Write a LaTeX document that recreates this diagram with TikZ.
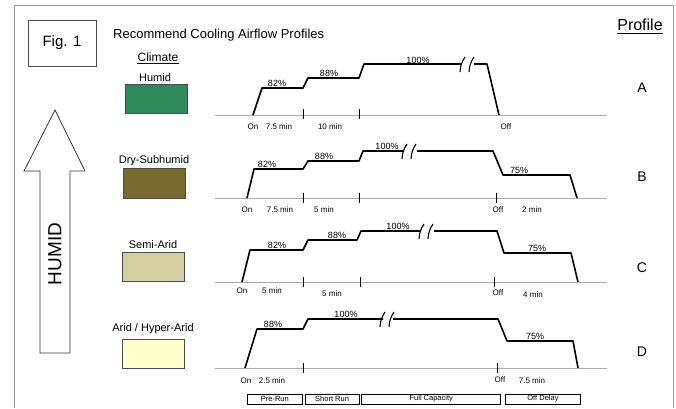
\documentclass[tikz,border=0pt]{standalone}
\usepackage{fontspec}
\setmainfont{Liberation Sans}
\usetikzlibrary{positioning}

\definecolor{humidgreen}{RGB}{46,138,90}
\definecolor{drysub}{RGB}{120,106,46}
\definecolor{semiarid}{RGB}{214,207,160}
\definecolor{arid}{RGB}{255,255,204}
\definecolor{framegray}{RGB}{150,150,150}

\tikzset{
  prof/.style={line width=1.6pt, line join=round},
  axisln/.style={draw=framegray!80, line width=0.8pt},
  tickln/.style={line width=0.7pt},
  brk/.style={line width=1.1pt},
  pct/.style={font=\fontsize{9}{10}\selectfont, anchor=base, inner sep=0pt},
  tlab/.style={font=\fontsize{8}{9}\selectfont, inner sep=0pt},
  clab/.style={font=\fontsize{11}{13}\selectfont, inner sep=0pt},
  cbox/.style={draw=black!70, line width=0.7pt},
  plab/.style={font=\fontsize{14}{16}\selectfont, inner sep=0pt},
  phase/.style={draw, line width=0.7pt, minimum height=10pt, inner sep=0pt, font=\fontsize{7.5}{8}\selectfont}
}

\begin{document}
\begin{tikzpicture}[x=1pt, y=-1pt]
\useasboundingbox (0,0) rectangle (676,408);
% frame
\draw[framegray, line width=1pt] (14,408) -- (14,5) -- (673,5) -- (673,408);
\node[draw=black!70, line width=0.7pt, minimum width=68pt, minimum height=46pt, font=\fontsize{15}{17}\selectfont] (fig) at (62,43) {Fig. 1};
\node[font=\fontsize{13}{15}\selectfont, anchor=west, inner sep=0pt] (title) at (113,35) {Recommend Cooling Airflow Profiles};
\node[font=\fontsize{12}{14}\selectfont, inner sep=0pt] (climate) at (158,57) {Climate};
\draw[line width=0.9pt] ([yshift=-2pt]climate.south west) -- ([yshift=-2pt]climate.south east);
\node[font=\fontsize{16}{18}\selectfont, inner sep=0pt] (profile) at (640,25) {Profile};
\draw[line width=0.9pt] ([yshift=-2pt]profile.south west) -- ([yshift=-2pt]profile.south east);

% humid arrow
\draw[line width=0.8pt, draw=black!80] (40,353) -- (40,171) -- (24,171) -- (55,110) -- (85,171) -- (70,171) -- (70,353) -- cycle;
\node[rotate=90, font=\fontsize{19}{21}\selectfont] (humid) at (55,254) {HUMID};

% climate boxes
\node[clab] (lbA) at (155,78) {Humid};
\draw[cbox, fill=humidgreen] (125,84) rectangle (187,113);
\node[clab] (lbB) at (154,161) {Dry-Subhumid};
\draw[cbox, fill=drysub] (123,168) rectangle (185,198);
\node[clab] (lbC) at (153,245) {Semi-Arid};
\draw[cbox, fill=semiarid] (122,252) rectangle (184,281);
\node[clab] (lbD) at (153,329) {Arid / Hyper-Arid};
\draw[cbox, fill=arid] (122,339) rectangle (184,368);

% axes
\foreach \yy in {115,198,282,368}
  \draw[axisln] (215,\yy) -- (607,\yy);

% Profile A
\draw[prof] (253,115) -- (262,88) -- (303,88) -- (308,78) -- (359,78) -- (364,64) -- (461,64);
\draw[prof] (474,64) -- (487,64) -- (499,115);
\draw[line width=2.6pt] (308,78) -- (359,78);
\draw[brk] (460,72) to[bend left=15] (465,57);
\draw[brk] (469,72) to[bend left=15] (474,57);
\foreach \xx in {303,359} \draw[tickln] (\xx,109) -- (\xx,119);
\node[pct] (pA1) at (277,86) {82\%};
\node[pct] (pA2) at (329,76) {88\%};
\node[pct] (pA3) at (418,63) {100\%};
\node[tlab] (onA) at (253,127) {On};
\node[tlab] (tA1) at (279,127) {7.5 min};
\node[tlab] (tA2) at (330,127) {10 min};
\node[tlab] (offA) at (506,127) {Off};
\node[plab] (prA) at (642,88) {A};

% Profile B
\draw[prof] (247,198) -- (254,169) -- (303,169) -- (308,161) -- (359,161) -- (363,151) -- (404,151);
\draw[prof] (417,151) -- (493,151) -- (503,175) -- (570,175) -- (577,198);
\draw[brk] (402,159) to[bend left=15] (407,144);
\draw[brk] (411,159) to[bend left=15] (416,144);
\foreach \xx in {303,359,496} \draw[tickln] (\xx,193) -- (\xx,203);
\node[pct] (pB1) at (267,167) {82\%};
\node[pct] (pB2) at (324,159) {88\%};
\node[pct] (pB3) at (387,149) {100\%};
\node[pct] (pB4) at (519,173) {75\%};
\node[tlab] (onB) at (247,210) {On};
\node[tlab] (tB1) at (280,210) {7.5 min};
\node[tlab] (tB2) at (324,210) {5 min};
\node[tlab] (offB) at (498,210) {Off};
\node[tlab] (tB3) at (532,210) {2 min};
\node[plab] (prB) at (642,177) {B};

% Profile C
\draw[prof] (242,282) -- (250,250) -- (303,250) -- (308,240) -- (357,240) -- (361,231) -- (421,231);
\draw[prof] (434,231) -- (497,231) -- (504,253) -- (571,253) -- (578,282);
\draw[line width=2.6pt] (308,240) -- (357,240);
\draw[brk] (419,239) to[bend left=15] (424,224);
\draw[brk] (428,239) to[bend left=15] (433,224);
\foreach \xx in {303,360,494} \draw[tickln] (\xx,277) -- (\xx,287);
\node[pct] (pC1) at (277,248) {82\%};
\node[pct] (pC2) at (337,238) {88\%};
\node[pct] (pC3) at (398,229) {100\%};
\node[pct] (pC4) at (537,251) {75\%};
\node[tlab] (onC) at (242,291) {On};
\node[tlab] (tC1) at (272,291) {5 min};
\node[tlab] (tC2) at (332,294) {5 min};
\node[tlab] (offC) at (498,293) {Off};
\node[tlab] (tC3) at (533,295) {4 min};
\node[plab] (prC) at (642,268) {C};

% Profile D
\draw[prof] (245,368) -- (257,329) -- (303,329) -- (308,319) -- (383,319);
\draw[prof] (393,319) -- (498,319) -- (507,341) -- (573,341) -- (578,368);
\draw[brk] (380,327) to[bend left=15] (385,312);
\draw[brk] (389,327) to[bend left=15] (394,312);
\foreach \xx in {303,497} \draw[tickln] (\xx,363) -- (\xx,373);
\node[pct] (pD1) at (273,327) {88\%};
\node[pct] (pD2) at (346,317) {100\%};
\node[pct] (pD3) at (535,339) {75\%};
\node[tlab] (onD) at (246,381) {On};
\node[tlab] (tD1) at (272,381) {2.5 min};
\node[tlab] (offD) at (500,380) {Off};
\node[tlab] (tD2) at (532,381) {7.5 min};
\node[plab] (prD) at (642,352) {D};

% phases
\node[phase, minimum width=55pt, anchor=west] (prerun) at (247,399) {Pre-Run};
\node[phase, minimum width=54pt, right=2pt of prerun] (shortrun) {Short Run};
\node[phase, minimum width=139pt, right=2pt of shortrun] (fullcap) {Full Capacity};
\node[phase, minimum width=75pt, right=4pt of fullcap] (offdelay) {Off Delay};
\end{tikzpicture}
\end{document}
